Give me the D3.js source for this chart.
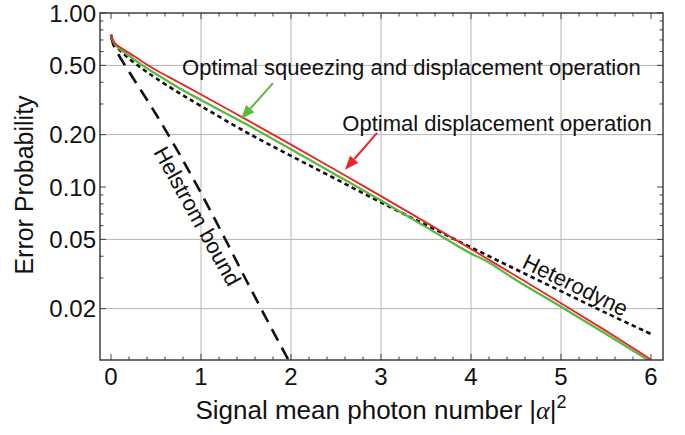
<!DOCTYPE html>
<html lang="en">
<head>
<meta charset="UTF-8">
<title>Error probability</title>
<script src="https://cdnjs.cloudflare.com/ajax/libs/d3/7.8.5/d3.min.js"></script>
<style>
  body { margin: 0; background: #fff; }
  text { font-family: "Liberation Sans", Arial, sans-serif; fill: #111; }
</style>
</head>
<body>
<svg width="685" height="435"></svg>
<script>
"use strict";

// photon number grid of each curve and its error probability
const helstromX = [0, 0.02, 0.05, 0.1, 0.25, 0.5, 0.75, 1, 1.25, 1.5, 1.75, 2];
const helstromY = [0.75, 0.672, 0.620, 0.557, 0.419, 0.262, 0.158, 0.0924, 0.0524, 0.0293, 0.0166, 0.0095];

const heteroX = [0, 0.02, 0.05, 0.1, 0.2, 0.35, 0.5, 0.75, 1, 1.5, 2, 2.5, 3, 3.5, 4, 4.5, 5, 5.5, 6];
const heteroY = [0.75, 0.691, 0.654, 0.611, 0.548, 0.477, 0.422, 0.349, 0.292, 0.207, 0.151, 0.111, 0.0815, 0.0605, 0.0450, 0.0336, 0.0252, 0.0189, 0.0143];

const dispX = [0, 0.02, 0.05, 0.1, 0.2, 0.35, 0.5, 0.75, 1, 1.5, 2, 2.5, 3, 3.5, 4, 4.5, 5, 5.5, 6];
const dispY = [0.75, 0.70, 0.665, 0.635, 0.59, 0.525, 0.47, 0.40, 0.340, 0.2446, 0.1752, 0.1249, 0.0886, 0.0626, 0.0440, 0.0308, 0.0215, 0.0149, 0.0102];

const squeezeX = [0, 0.02, 0.05, 0.1, 0.2, 0.35, 0.5, 0.75, 1, 1.5, 2, 2.5, 3, 3.5, 4, 4.1, 4.2, 4.5, 5, 5.5, 6];
const squeezeY = [0.75, 0.695, 0.655, 0.62, 0.568, 0.50, 0.446, 0.372, 0.316, 0.230, 0.1647, 0.1174, 0.0836, 0.0588, 0.0414, 0.0392, 0.0368, 0.0292, 0.0205, 0.0143, 0.0099];

const xTicks = [0, 1, 2, 3, 4, 5, 6];
const yTicks = [1, 0.5, 0.2, 0.1, 0.05, 0.02];
const yGrid = [0.5, 0.2, 0.05, 0.02];

const svg = d3.select("svg");
const frame = { left: 100, top: 13, right: 663, bottom: 360 };

const x = d3.scaleLinear().domain([0, 6]).range([111, 651]);
const y = d3.scaleLog().domain([0.01, 1]).range([361, 13]);

svg.append("defs").append("clipPath").attr("id", "plot")
  .append("rect")
  .attr("x", frame.left).attr("y", frame.top)
  .attr("width", frame.right - frame.left).attr("height", frame.bottom - frame.top);

// grid
svg.append("g").selectAll("line").data(xTicks.slice(1, 6)).enter().append("line")
  .attr("x1", d => x(d)).attr("x2", d => x(d))
  .attr("y1", frame.top).attr("y2", frame.bottom)
  .attr("stroke", "#b4b4b4").attr("stroke-width", 1);
svg.append("g").selectAll("line").data(yGrid).enter().append("line")
  .attr("x1", frame.left).attr("x2", frame.right)
  .attr("y1", d => y(d)).attr("y2", d => y(d))
  .attr("stroke", "#b4b4b4").attr("stroke-width", 1);

// ticks, pointing inward on all four sides
const xMinor = d3.range(0, 6.01, 0.2).filter(v => Math.abs(v - Math.round(v)) > 1e-6);
const yMinor = [];
[0.01, 0.1].forEach(dec => d3.range(1, 10).forEach(k => yMinor.push(+(dec * k).toFixed(3))));
const yMinorOnly = yMinor.filter(v => yTicks.indexOf(v) < 0 && v > 0.0101);

const ticks = svg.append("g").attr("stroke", "#444").attr("stroke-width", 1);
function xTick(v, len) {
  ticks.append("line").attr("x1", x(v)).attr("x2", x(v)).attr("y1", frame.bottom).attr("y2", frame.bottom - len);
  ticks.append("line").attr("x1", x(v)).attr("x2", x(v)).attr("y1", frame.top).attr("y2", frame.top + len);
}
function yTick(v, len) {
  ticks.append("line").attr("y1", y(v)).attr("y2", y(v)).attr("x1", frame.left).attr("x2", frame.left + len);
  ticks.append("line").attr("y1", y(v)).attr("y2", y(v)).attr("x1", frame.right).attr("x2", frame.right - len);
}
xTicks.forEach(v => xTick(v, 6));
xMinor.forEach(v => xTick(v, 3.5));
yTicks.forEach(v => yTick(v, 6));
yMinorOnly.forEach(v => yTick(v, 3.5));

// tick labels
svg.append("g").selectAll("text").data(xTicks).enter().append("text")
  .attr("x", d => x(d)).attr("y", 385)
  .attr("text-anchor", "middle").attr("font-size", 24)
  .text(d => d);
svg.append("g").selectAll("text").data(yTicks).enter().append("text")
  .attr("x", 96).attr("y", d => y(d) + 8.5)
  .attr("text-anchor", "end").attr("font-size", 24)
  .text(d => d3.format(".2f")(d));

// axis titles
const xt = svg.append("text").attr("x", 381).attr("y", 419)
  .attr("text-anchor", "middle").attr("font-size", 26);
xt.append("tspan").text("Signal mean photon number |");
xt.append("tspan").attr("font-family", "'Liberation Serif', 'DejaVu Serif', serif").attr("font-style", "italic").text("α");
xt.append("tspan").text("|");
xt.append("tspan").attr("dy", -11).attr("font-size", 18).text("2");

svg.append("text")
  .attr("transform", "translate(33,185) rotate(-90)")
  .attr("text-anchor", "middle").attr("font-size", 25)
  .text("Error Probability");

// curves
const plot = svg.append("g").attr("clip-path", "url(#plot)");
const line = d3.line().x(d => x(d[0])).y(d => y(d[1])).curve(d3.curveCatmullRom.alpha(0.5));

plot.append("path").datum(d3.zip(helstromX, helstromY))
  .attr("d", line).attr("fill", "none")
  .attr("stroke", "#111").attr("stroke-width", 2.6).attr("stroke-dasharray", "13,8");
plot.append("path").datum(d3.zip(heteroX, heteroY))
  .attr("d", line).attr("fill", "none")
  .attr("stroke", "#111").attr("stroke-width", 2.6).attr("stroke-dasharray", "4.5,3.5");
plot.append("path").datum(d3.zip(squeezeX, squeezeY))
  .attr("d", line).attr("fill", "none")
  .attr("stroke", "#5cb83c").attr("stroke-width", 2.3);
plot.append("path").datum(d3.zip(dispX, dispY))
  .attr("d", line).attr("fill", "none")
  .attr("stroke", "#e8242c").attr("stroke-width", 1.8);

// annotations
svg.append("text").attr("x", x(0.79)).attr("y", y(0.44)).attr("font-size", 22)
  .text("Optimal squeezing and displacement operation");
svg.append("text").attr("x", x(2.57)).attr("y", y(0.211)).attr("font-size", 22)
  .text("Optimal displacement operation");
svg.append("text").attr("font-size", 22)
  .attr("transform", `translate(${x(0.467)},${y(0.159)}) rotate(61)`)
  .text("Helstrom bound");
svg.append("text").attr("font-size", 22)
  .attr("transform", `translate(${x(4.556)},${y(0.0347)}) rotate(26)`)
  .text("Heterodyne");

function arrow(x0, y0, x1, y1, color) {
  const px0 = x(x0), py0 = y(y0), px1 = x(x1), py1 = y(y1);
  const a = Math.atan2(py1 - py0, px1 - px0);
  const len = 14, half = 5.5;
  const bx = px1 - len * Math.cos(a), by = py1 - len * Math.sin(a);
  svg.append("line").attr("x1", px0).attr("y1", py0).attr("x2", bx).attr("y2", by)
    .attr("stroke", color).attr("stroke-width", 2);
  const pts = [
    [px1, py1],
    [bx + half * Math.sin(a), by - half * Math.cos(a)],
    [bx - half * Math.sin(a), by + half * Math.cos(a)]
  ];
  svg.append("path").attr("d", "M" + pts.join("L") + "Z").attr("fill", color);
}
arrow(1.8, 0.3957, 1.444, 0.2457, "#5cb83c");
arrow(2.956, 0.2045, 2.6, 0.1255, "#e8242c");

// frame
svg.append("rect")
  .attr("x", frame.left).attr("y", frame.top)
  .attr("width", frame.right - frame.left).attr("height", frame.bottom - frame.top)
  .attr("fill", "none").attr("stroke", "#333").attr("stroke-width", 1.4);
</script>
</body>
</html>
